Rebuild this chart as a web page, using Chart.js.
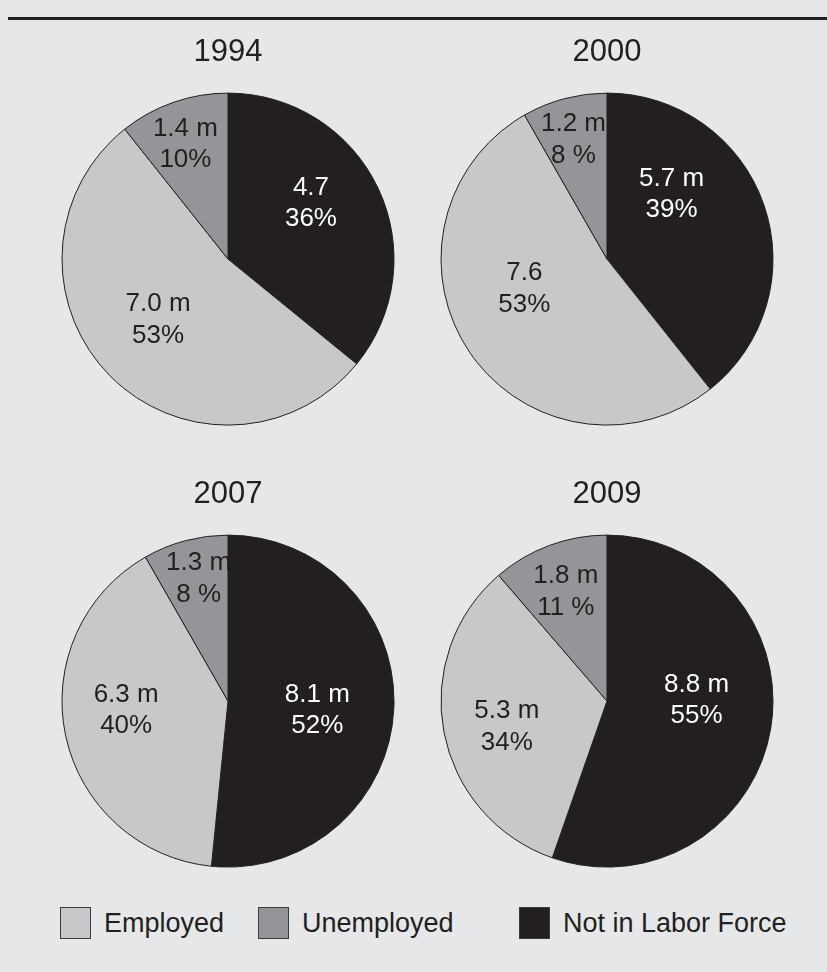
<!DOCTYPE html>
<html>
<head>
<meta charset="utf-8">
<script src="https://cdn.jsdelivr.net/npm/chart.js@4.4.1/dist/chart.umd.min.js"></script>
<style>
  html, body { margin: 0; padding: 0; }
  body {
    width: 827px; height: 972px; position: relative; overflow: hidden;
    background: #e6e7e8;
    font-family: "Liberation Sans", Arial, sans-serif;
  }
  .rule { position: absolute; left: 8px; right: 0; top: 17px; height: 3px; background: #231f20; }
  .pie { position: absolute; }
  .key {
    position: absolute; top: 907px; height: 32px;
    display: flex; align-items: center;
    font-size: 27px; color: #231f20; white-space: nowrap;
  }
  .key .box { box-sizing: border-box; width: 31px; height: 32px; border: 1.5px solid #3b3b3b; margin-right: 13px; }
</style>
</head>
<body>
<div class="rule"></div>
<canvas id="pie1994" class="pie" width="380" height="427" style="left:38px;top:20px"></canvas>
<canvas id="pie2000" class="pie" width="380" height="427" style="left:417px;top:20px"></canvas>
<canvas id="pie2007" class="pie" width="380" height="427" style="left:38px;top:462px"></canvas>
<canvas id="pie2009" class="pie" width="380" height="427" style="left:417px;top:462px"></canvas>
<div id="legend"></div>
<script>
const categories = ['Employed', 'Unemployed', 'Not in Labor Force'];
const colors = ['#c7c8ca', '#939598', '#231f20'];

// millions of people, same order as categories
const values1994 = [7.0, 1.4, 4.7];
const values2000 = [7.6, 1.2, 5.7];
const values2007 = [6.3, 1.3, 8.1];
const values2009 = [5.3, 1.8, 8.8];

const pct1994 = ['53%', '10%', '36%'];
const pct2000 = ['53%', '8 %', '39%'];
const pct2007 = ['40%', '8 %', '52%'];
const pct2009 = ['34%', '11 %', '55%'];

const units1994 = [' m', ' m', ''];
const units2000 = ['', ' m', ' m'];
const units2007 = [' m', ' m', ' m'];
const units2009 = [' m', ' m', ' m'];

// slices go clockwise from 12 o'clock: not in labor force, employed, unemployed
const sliceOrder = [2, 0, 1];

// where each label block sits: [degrees clockwise from top, share of radius]
const spots1994 = [[230, 0.55], [340, 0.75], [55, 0.61]];
const spots2000 = [[251.5, 0.525], [344.6, 0.76], [44, 0.56]];
const spots2007 = [[266, 0.615], [346.7, 0.77], [94.4, 0.54]];
const spots2009 = [[256.8, 0.62], [339.7, 0.715], [88, 0.54]];

const legendX = [60, 258, 519];

Chart.defaults.font.family = '"Liberation Sans", Arial, sans-serif';

const sliceLabels = {
    id: 'sliceLabels',
    afterDatasetsDraw(chart, args, opts) {
        const ctx = chart.ctx;
        const arcs = chart.getDatasetMeta(0).data;
        ctx.save();
        ctx.font = '26px "Liberation Sans", Arial, sans-serif';
        ctx.textAlign = 'center';
        ctx.textBaseline = 'alphabetic';
        arcs.forEach((arc, i) => {
            const k = sliceOrder[i];
            const a = opts.spots[k][0] * Math.PI / 180;
            const r = arc.outerRadius * opts.spots[k][1];
            const x = arc.x + Math.sin(a) * r;
            const y = arc.y - Math.cos(a) * r;
            ctx.fillStyle = k === 2 ? '#ffffff' : '#231f20';
            ctx.fillText(opts.values[k].toFixed(1) + opts.units[k], x, y - 15.75 + 9.3);
            ctx.fillText(opts.pct[k], x, y + 15.75 + 9.3);
        });
        ctx.restore();
    }
};

function drawPie(id, year, values, pct, units, spots) {
    new Chart(document.getElementById(id), {
        type: 'pie',
        data: {
            labels: sliceOrder.map(k => categories[k]),
            datasets: [{
                data: sliceOrder.map(k => values[k]),
                backgroundColor: sliceOrder.map(k => colors[k]),
                borderColor: '#231f20',
                borderWidth: 1,
                radius: 166
            }]
        },
        options: {
            responsive: false,
            animation: false,
            events: [],
            plugins: {
                legend: { display: false },
                tooltip: { enabled: false },
                title: {
                    display: true,
                    text: year,
                    color: '#231f20',
                    font: { size: 31, weight: 'normal' },
                    padding: { top: 14, bottom: 0 }
                },
                sliceLabels: { values: values, pct: pct, units: units, spots: spots }
            }
        },
        plugins: [sliceLabels]
    });
}

drawPie('pie1994', '1994', values1994, pct1994, units1994, spots1994);
drawPie('pie2000', '2000', values2000, pct2000, units2000, spots2000);
drawPie('pie2007', '2007', values2007, pct2007, units2007, spots2007);
drawPie('pie2009', '2009', values2009, pct2009, units2009, spots2009);

// legend keys
const legend = document.getElementById('legend');
categories.forEach((name, i) => {
    const item = document.createElement('div');
    item.className = 'key';
    item.style.left = legendX[i] + 'px';
    const box = document.createElement('span');
    box.className = 'box';
    box.style.background = colors[i];
    item.appendChild(box);
    item.appendChild(document.createTextNode(name));
    legend.appendChild(item);
});
</script>
</body>
</html>
